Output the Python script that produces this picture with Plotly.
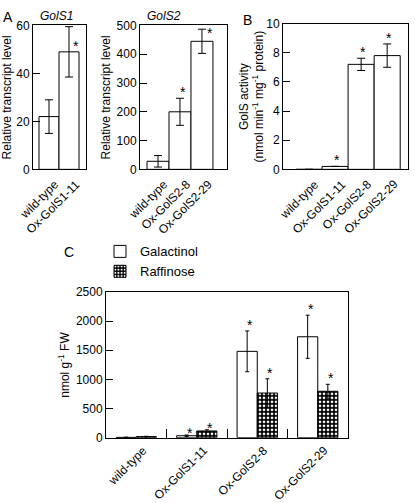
import plotly.graph_objects as go

W, H = 415, 503

# ---------------- data ----------------
a1_cats = ["wild-type", "Ox-GolS1-11"]
a1_vals = [22, 49]
a1_err = [7, 10.5]
a1_sig = [False, True]
a1_ticks = [0, 20, 40, 60]

a2_cats = ["wild-type", "Ox-GolS2-8", "Ox-GolS2-29"]
a2_vals = [28, 200, 445]
a2_err = [20, 47, 42]
a2_sig = [False, True, True]
a2_ticks = [0, 100, 200, 300, 400, 500]

b_cats = ["wild-type", "Ox-GolS1-11", "Ox-GolS2-8", "Ox-GolS2-29"]
b_vals = [0, 0.2, 7.2, 7.8]
b_err = [0, 0, 0.42, 0.8]
b_sig = [False, True, True, True]
b_ticks = [0, 2, 4, 6, 8, 10]

c_cats = ["wild-type", "Ox-GolS1-11", "Ox-GolS2-8", "Ox-GolS2-29"]
c_gal = [5, 33, 1480, 1730]
c_gal_err = [4, 12, 350, 370]
c_raf = [18, 115, 765, 795]
c_raf_err = [6, 20, 245, 120]
c_gal_sig = [False, True, True, True]
c_raf_sig = [False, True, True, True]
c_ticks = [0, 500, 1000, 1500, 2000, 2500]

FONT = "Liberation Sans, Arial, sans-serif"

def px_x(p):
    return p / W

def px_y(p):
    return 1 - p / H

fig = go.Figure()

bar_line = dict(color="black", width=1)

def errstyle(e, w):
    return dict(type="data", array=e, visible=True, color="black", thickness=1, width=w)

fig.add_trace(go.Bar(x=a1_cats, y=a1_vals, error_y=errstyle(a1_err, 4), width=1,
                     marker=dict(color="white", line=bar_line), xaxis="x", yaxis="y", showlegend=False))
fig.add_trace(go.Bar(x=a2_cats, y=a2_vals, error_y=errstyle(a2_err, 4), width=1,
                     marker=dict(color="white", line=bar_line), xaxis="x2", yaxis="y2", showlegend=False))
fig.add_trace(go.Bar(x=b_cats, y=b_vals, error_y=errstyle(b_err, 4), width=1,
                     marker=dict(color="white", line=bar_line), xaxis="x3", yaxis="y3", showlegend=False))
fig.add_trace(go.Bar(x=c_cats, y=c_gal, name="Galactinol", error_y=errstyle(c_gal_err, 2),
                     width=1/3, offset=-1/3,
                     marker=dict(color="white", line=bar_line), xaxis="x4", yaxis="y4"))
fig.add_trace(go.Bar(x=c_cats, y=c_raf, name="Raffinose", error_y=errstyle(c_raf_err, 2),
                     width=1/3, offset=0,
                     marker=dict(color="black", line=bar_line,
                                 pattern=dict(shape=".", fgcolor="white", bgcolor="black",
                                              size=4, solidity=0.37, fillmode="replace")),
                     xaxis="x4", yaxis="y4"))

tickfont = dict(family=FONT, size=12, color="black")

def xax(dom, rng, anchor, **kw):
    d = dict(domain=dom, range=rng, anchor=anchor, type="category", showline=True, linecolor="black",
             linewidth=1, mirror=True, ticks="", showticklabels=False, showgrid=False,
             zeroline=False, fixedrange=True)
    d.update(kw)
    return d

def yax(dom, rng, anchor, tv):
    return dict(domain=dom, range=rng, anchor=anchor, showline=True, linecolor="black", linewidth=1,
                mirror=True, ticks="inside", ticklen=7, tickcolor="black", tickvals=tv,
                tickfont=tickfont, showgrid=False, zeroline=False, fixedrange=True)

yA = [px_y(167), px_y(19)]
fig.update_layout(
    xaxis=xax([px_x(33), px_x(86)], [-0.8, 1.85], "y"),
    yaxis=yax(yA, [0, 60], "x", a1_ticks),
    xaxis2=xax([px_x(140), px_x(227)], [-0.82, 3.14], "y2"),
    yaxis2=yax(yA, [0, 500], "x2", a2_ticks),
    xaxis3=xax([px_x(283), px_x(408)], [-1.0, 3.8], "y3"),
    yaxis3=yax([px_y(167), px_y(17)], [0, 10], "x3", b_ticks),
    xaxis4=xax([px_x(106), px_x(348)], [-0.5, 3.5], "y4", ticks="inside", tickson="boundaries",
               ticklen=9, tickcolor="black"),
    yaxis4=yax([px_y(443), px_y(293)], [0, 2500], "x4", c_ticks),
    barmode="overlay",
    width=W, height=H,
    margin=dict(l=0, r=0, t=0, b=0),
    paper_bgcolor="white", plot_bgcolor="white",
    font=dict(family=FONT, size=12, color="black"),
    legend=dict(x=px_x(100), y=px_y(236), xanchor="left", yanchor="top",
                font=dict(family=FONT, size=13, color="black"), bgcolor="rgba(0,0,0,0)",
                itemwidth=30, tracegroupgap=4),
    showlegend=True,
)

ann = []

def star(xref, yref, xi, yv, xshift, yshift=0):
    ann.append(dict(x=xi, y=yv, xref=xref, yref=yref, text="*", showarrow=False,
                    xanchor="center", yanchor="bottom", xshift=xshift, yshift=yshift - 4,
                    font=dict(family=FONT, size=14, color="black")))

def catlabels(xref, yref, cats, ys=-5):
    for i, c in enumerate(cats):
        ann.append(dict(x=i, y=0, xref=xref, yref=yref, text=c, showarrow=False, textangle=-45,
                        xanchor="right", yanchor="top", xshift=16, yshift=ys,
                        font=dict(family=FONT, size=12, color="black")))

catlabels("x", "y", a1_cats)
catlabels("x2", "y2", a2_cats)
catlabels("x3", "y3", b_cats)
catlabels("x4", "y4", c_cats, ys=-3)

for i, (v, e, s) in enumerate(zip(a1_vals, a1_err, a1_sig)):
    if s:
        star("x", "y", i, v, 7)
for i, (v, e, s) in enumerate(zip(a2_vals, a2_err, a2_sig)):
    if s:
        if v + e > 480:
            star("x2", "y2", i, v + e, 8, -10)
        else:
            star("x2", "y2", i, v + e, 3)
for i, (v, e, s) in enumerate(zip(b_vals, b_err, b_sig)):
    if s:
        star("x3", "y3", i, v + e, 2)
for i, (v, e, s) in enumerate(zip(c_gal, c_gal_err, c_gal_sig)):
    if s:
        star("x4", "y4", i - 1/6, v + e, 3, -4 if i == 1 else 0)
for i, (v, e, s) in enumerate(zip(c_raf, c_raf_err, c_raf_sig)):
    if s:
        star("x4", "y4", i + 1/6, v + e, 3, -4 if i == 1 else 0)

def label(text, x, y, size=14, **kw):
    d = dict(text=text, x=px_x(x), y=px_y(y), xref="paper", yref="paper", showarrow=False,
             font=dict(family=FONT, size=size, color="black"), xanchor="left", yanchor="middle")
    d.update(kw)
    ann.append(d)

label("A", 1, 10, 14)
label("B", 241, 13, 14)
label("C", 62, 252, 14)
label("<i>GolS1</i>", 38, 9, 12)
label("<i>GolS2</i>", 145, 9, 12)
label("Relative transcript level", 7, 93, 12, textangle=-90, xanchor="center")
label("Relative transcript level", 106, 93, 12, textangle=-90, xanchor="center")
label("GolS activity<br>(nmol min<sup>-1</sup> mg<sup>-1</sup> protein)", 252, 92, 12,
      textangle=-90, xanchor="center")
label("nmol g<sup>-1</sup> FW", 64, 368, 12, textangle=-90, xanchor="center")

fig.update_layout(annotations=ann)

fig.write_html("out.html", config={"displayModeBar": False},
               post_script="document.body.style.margin='0';")
